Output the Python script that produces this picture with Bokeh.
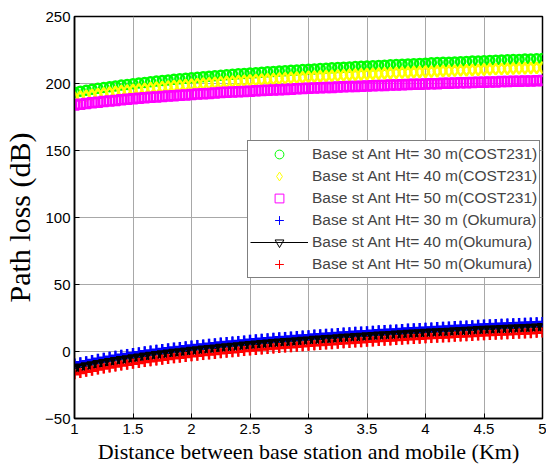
import numpy as np
from bokeh.plotting import figure
from bokeh.models import Legend, LegendItem, FixedTicker
from bokeh.embed import file_html
from bokeh.resources import INLINE

# Distance grid (Km)
distance_km = np.linspace(1, 5, 81)

# Path loss values (dB)
cost231_30m = [193.5, 194.3, 195.0, 195.7, 196.4, 197.0, 197.6, 198.2, 198.8, 199.3,
               199.8, 200.4, 200.8, 201.3, 201.8, 202.2, 202.7, 203.1, 203.5, 203.9,
               204.3, 204.7, 205.1, 205.5, 205.8, 206.2, 206.5, 206.9, 207.2, 207.5,
               207.8, 208.1, 208.4, 208.7, 209.0, 209.3, 209.6, 209.9, 210.1, 210.4,
               210.7, 210.9, 211.2, 211.4, 211.7, 211.9, 212.2, 212.4, 212.6, 212.9,
               213.1, 213.3, 213.5, 213.7, 214.0, 214.2, 214.4, 214.6, 214.8, 215.0,
               215.2, 215.4, 215.6, 215.8, 215.9, 216.1, 216.3, 216.5, 216.7, 216.8,
               217.0, 217.2, 217.4, 217.5, 217.7, 217.9, 218.0, 218.2, 218.3, 218.5, 218.7]
cost231_40m = [189.5, 190.2, 190.8, 191.4, 192.0, 192.6, 193.1, 193.7, 194.2, 194.7,
               195.1, 195.6, 196.0, 196.5, 196.9, 197.3, 197.7, 198.0, 198.4, 198.8,
               199.1, 199.5, 199.8, 200.1, 200.5, 200.8, 201.1, 201.4, 201.7, 202.0,
               202.2, 202.5, 202.8, 203.0, 203.3, 203.6, 203.8, 204.1, 204.3, 204.5,
               204.8, 205.0, 205.2, 205.4, 205.7, 205.9, 206.1, 206.3, 206.5, 206.7,
               206.9, 207.1, 207.3, 207.5, 207.7, 207.9, 208.1, 208.2, 208.4, 208.6,
               208.8, 208.9, 209.1, 209.3, 209.4, 209.6, 209.8, 209.9, 210.1, 210.2,
               210.4, 210.6, 210.7, 210.9, 211.0, 211.2, 211.3, 211.4, 211.6, 211.7, 211.9]
cost231_50m = [184.0, 184.6, 185.1, 185.6, 186.1, 186.5, 187.0, 187.4, 187.8, 188.2,
               188.6, 188.9, 189.3, 189.7, 190.0, 190.3, 190.6, 190.9, 191.2, 191.5,
               191.8, 192.1, 192.4, 192.6, 192.9, 193.2, 193.4, 193.6, 193.9, 194.1,
               194.3, 194.6, 194.8, 195.0, 195.2, 195.4, 195.6, 195.8, 196.0, 196.2,
               196.4, 196.6, 196.8, 197.0, 197.1, 197.3, 197.5, 197.7, 197.8, 198.0,
               198.1, 198.3, 198.5, 198.6, 198.8, 198.9, 199.1, 199.2, 199.4, 199.5,
               199.7, 199.8, 199.9, 200.1, 200.2, 200.3, 200.5, 200.6, 200.7, 200.9,
               201.0, 201.1, 201.2, 201.4, 201.5, 201.6, 201.7, 201.8, 201.9, 202.1, 202.2]
okumura_30m = [-9.0, -8.1, -7.2, -6.3, -5.5, -4.7, -3.9, -3.2, -2.5, -1.8,
               -1.2, -0.5, 0.1, 0.7, 1.3, 1.8, 2.4, 2.9, 3.4, 3.9,
               4.4, 4.9, 5.3, 5.8, 6.2, 6.7, 7.1, 7.5, 7.9, 8.3,
               8.7, 9.1, 9.5, 9.8, 10.2, 10.6, 10.9, 11.2, 11.6, 11.9,
               12.2, 12.6, 12.9, 13.2, 13.5, 13.8, 14.1, 14.4, 14.7, 14.9,
               15.2, 15.5, 15.8, 16.0, 16.3, 16.5, 16.8, 17.1, 17.3, 17.5,
               17.8, 18.0, 18.3, 18.5, 18.7, 19.0, 19.2, 19.4, 19.6, 19.9,
               20.1, 20.3, 20.5, 20.7, 20.9, 21.1, 21.3, 21.5, 21.7, 21.9, 22.1]
okumura_40m = [-13.0, -12.1, -11.2, -10.3, -9.5, -8.7, -7.9, -7.2, -6.5, -5.8,
               -5.2, -4.5, -3.9, -3.3, -2.7, -2.2, -1.6, -1.1, -0.6, -0.1,
               0.4, 0.9, 1.3, 1.8, 2.2, 2.7, 3.1, 3.5, 3.9, 4.3,
               4.7, 5.1, 5.5, 5.8, 6.2, 6.6, 6.9, 7.2, 7.6, 7.9,
               8.2, 8.6, 8.9, 9.2, 9.5, 9.8, 10.1, 10.4, 10.7, 10.9,
               11.2, 11.5, 11.8, 12.0, 12.3, 12.5, 12.8, 13.1, 13.3, 13.5,
               13.8, 14.0, 14.3, 14.5, 14.7, 15.0, 15.2, 15.4, 15.6, 15.9,
               16.1, 16.3, 16.5, 16.7, 16.9, 17.1, 17.3, 17.5, 17.7, 17.9, 18.1]
okumura_50m = [-17.0, -16.1, -15.2, -14.3, -13.5, -12.7, -11.9, -11.2, -10.5, -9.8,
               -9.2, -8.5, -7.9, -7.3, -6.7, -6.2, -5.6, -5.1, -4.6, -4.1,
               -3.6, -3.1, -2.7, -2.2, -1.8, -1.3, -0.9, -0.5, -0.1, 0.3,
               0.7, 1.1, 1.5, 1.8, 2.2, 2.6, 2.9, 3.2, 3.6, 3.9,
               4.2, 4.6, 4.9, 5.2, 5.5, 5.8, 6.1, 6.4, 6.7, 6.9,
               7.2, 7.5, 7.8, 8.0, 8.3, 8.5, 8.8, 9.1, 9.3, 9.5,
               9.8, 10.0, 10.3, 10.5, 10.7, 11.0, 11.2, 11.4, 11.6, 11.9,
               12.1, 12.3, 12.5, 12.7, 12.9, 13.1, 13.3, 13.5, 13.7, 13.9, 14.1]

labels = ["Base st Ant Ht= 30 m(COST231)",
          "Base st Ant Ht= 40 m(COST231)",
          "Base st Ant Ht= 50 m(COST231)",
          "Base st Ant Ht= 30 m (Okumura)",
          "Base st Ant Ht= 40 m(Okumura)",
          "Base st Ant Ht= 50 m(Okumura)"]
x_ticks = [1, 1.5, 2, 2.5, 3, 3.5, 4, 4.5, 5]
x_tick_labels = ["1", "1.5", "2", "2.5", "3", "3.5", "4", "4.5", "5"]
y_ticks = [-50, 0, 50, 100, 150, 200, 250]
x_title = "Distance between base station and mobile (Km)"
y_title = "Path loss (dB)"

p = figure(width=546, height=467, x_range=(1, 5), y_range=(-50, 250),
           output_backend="svg", toolbar_location=None,
           min_border_left=70, min_border_right=4, min_border_top=16, min_border_bottom=49)
p.background_fill_color = "white"
p.border_fill_color = "white"
p.outline_line_color = "black"
p.outline_line_width = 1.5

SANS = "Liberation Sans"
SERIF = "Liberation Serif"

for ax in (p.xaxis[0], p.yaxis[0]):
    ax.axis_line_color = "black"
    ax.axis_line_width = 1.5
    ax.major_tick_in = 5
    ax.major_tick_out = 0
    ax.minor_tick_line_color = None
    ax.major_label_text_font = SANS
    ax.major_label_text_font_size = "15px"
    ax.major_label_text_color = "black"
    ax.axis_label_text_font = SERIF
    ax.axis_label_text_font_style = "normal"
    ax.axis_label_text_color = "black"

p.xaxis.ticker = FixedTicker(ticks=x_ticks)
p.xaxis.major_label_overrides = {t: l for t, l in zip(x_ticks, x_tick_labels)}
p.yaxis.ticker = FixedTicker(ticks=y_ticks)
p.xaxis.axis_label = x_title
p.xaxis.axis_label_text_font_size = "22px"
p.xaxis.major_label_standoff = 5
p.xaxis.axis_label_standoff = 2
p.yaxis.axis_label = y_title
p.yaxis.axis_label_text_font_size = "30px"
p.yaxis.major_label_standoff = 4
p.yaxis.axis_label_standoff = 6

p.xgrid.grid_line_color = "#a8a8a8"
p.ygrid.grid_line_color = "#a8a8a8"
p.xgrid.grid_line_width = 1
p.ygrid.grid_line_width = 1

series = [
    (cost231_30m, "circle", 9, "#00ff00", True),
    (cost231_40m, "diamond", 11, "#ffff00", True),
    (cost231_50m, "square", 9, "#ff00ff", True),
    (okumura_30m, "cross", 10, "#0000ff", False),
    (okumura_40m, "inverted_triangle", 10, "black", True),
    (okumura_50m, "cross", 10, "#ff0000", False),
]

items = []
for i, (vals, marker, size, color, hollow) in enumerate(series):
    kw = dict(fill_color=None) if hollow else {}
    # thin-stroke copy (underneath), used as the legend glyph
    thin = p.scatter(distance_km, vals, marker=marker, size=size, line_color=color,
                     line_width=1, **kw)
    line_r = None
    if i == 4:
        line_r = p.line(distance_km, vals, line_color="black", line_width=1)
    p.scatter(distance_km, vals, marker=marker, size=size, line_color=color,
              line_width=2.5, **kw)
    rends = [line_r, thin] if line_r is not None else [thin]
    items.append(LegendItem(label=labels[i], renderers=rends))

legend = Legend(items=items, location=(173, 140), margin=0, padding=2, spacing=0,
                glyph_width=58, glyph_height=22, label_height=22, label_standoff=4,
                label_text_font=SANS, label_text_font_size="15.5px",
                border_line_color="black", border_line_width=1,
                background_fill_color="white", background_fill_alpha=1)
p.add_layout(legend, "center")

open("out.html", "w").write(file_html(p, INLINE))
